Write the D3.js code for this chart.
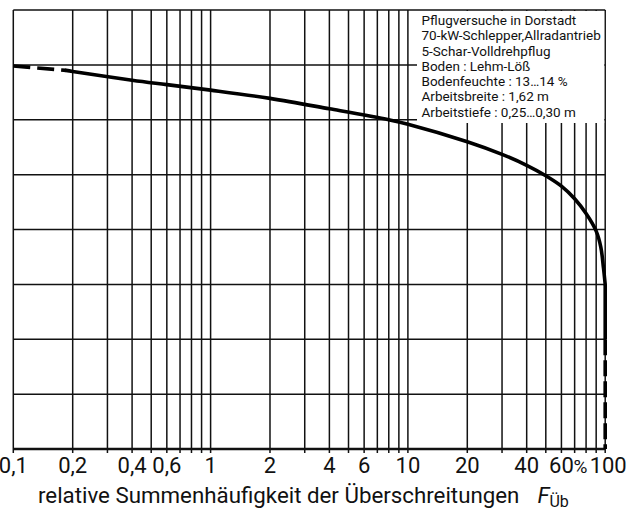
<!DOCTYPE html>
<html>
<head>
<meta charset="utf-8">
<script src="https://cdn.jsdelivr.net/npm/d3@7"></script>
<style>
  body { margin: 0; background: #fff; }
  svg { display: block; }
</style>
</head>
<body>
<div id="chart"></div>
<script>
// y has no labels, so grid units (0..8) are used
const curveX = [0.185, 0.2, 0.4, 0.6, 1, 2, 4, 8, 10, 20, 30, 40, 50, 60, 70, 80, 90, 95, 98, 100];
const curveY = [6.90, 6.88, 6.72, 6.64, 6.54, 6.39, 6.20, 6.00, 5.92, 5.60, 5.37, 5.17, 4.98, 4.79, 4.56, 4.29, 3.97, 3.68, 3.30, 3.0];
const startDashX = [0.1, 0.185];
const startDashY = [6.98, 6.90];
const endSolidY = [3.0, 2.0];
const endDashY = [2.0, 0];

const gridX = [0.1, 0.2, 0.3, 0.4, 0.5, 0.6, 0.7, 0.8, 0.9,
               1, 2, 3, 4, 5, 6, 7, 8, 9,
               10, 20, 30, 40, 50, 60, 70, 80, 90, 100];
const gridY = [0, 1, 2, 3, 4, 5, 6, 7, 8];
const tickValues = [0.1, 0.2, 0.4, 0.6, 1, 2, 4, 6, 10, 20, 40, 60, 100];
const tickLabels = ['0,1', '0,2', '0,4', '0,6', '1', '2', '4', '6', '10', '20', '40', '60', '100'];
const unitLabel = '%';
const unitAt = 75;

const legendLines = [
  'Pflugversuche in Dorstadt',
  '70-kW-Schlepper,Allradantrieb',
  '5-Schar-Volldrehpflug',
  'Boden : Lehm-Löß',
  'Bodenfeuchte : 13…14 %',
  'Arbeitsbreite : 1,62 m',
  'Arbeitstiefe : 0,25…0,30 m'
];

const W = 638, H = 510;
const font = "Roboto, 'DejaVu Sans', sans-serif";

const x = d3.scaleLog().domain([0.1, 100]).range([13.3, 605.2]);
const y = d3.scaleLinear().domain([0, 8]).range([449, 10]);

const svg = d3.select('#chart').append('svg')
  .attr('width', W)
  .attr('height', H);

// vertical grid
svg.append('g').selectAll('line')
  .data(gridX)
  .enter().append('line')
  .attr('x1', d => x(d)).attr('x2', d => x(d))
  .attr('y1', y(8)).attr('y2', y(0) + 4)
  .attr('stroke', '#111')
  .attr('stroke-width', 1.5);

// horizontal grid
svg.append('g').selectAll('line')
  .data(gridY)
  .enter().append('line')
  .attr('x1', x(0.1)).attr('x2', x(100))
  .attr('y1', d => y(d)).attr('y2', d => y(d))
  .attr('stroke', '#111')
  .attr('stroke-width', d => d === 0 ? 2.4 : 1.5);

// legend box (white, hides the grid behind it)
svg.append('rect')
  .attr('x', 417).attr('y', y(8) + 1)
  .attr('width', x(100) - 418).attr('height', 112)
  .attr('fill', '#fff');

svg.append('g')
  .selectAll('text')
  .data(legendLines)
  .enter().append('text')
  .attr('x', 421.5)
  .attr('y', (d, i) => 25 + i * 15.25)
  .style('font-family', font)
  .style('font-size', '13.5px')
  .attr('fill', '#111')
  .text(d => d);

// the curve
const line = d3.line()
  .x(d => x(d[0]))
  .y(d => y(d[1]));

svg.append('path')
  .attr('d', line.curve(d3.curveCatmullRom.alpha(0.5))(curveX.map((v, i) => [v, curveY[i]])))
  .attr('fill', 'none')
  .attr('stroke', '#000')
  .attr('stroke-width', 3.6)
  .attr('stroke-linecap', 'round');

line.curve(d3.curveLinear);

svg.append('path')
  .attr('d', line(startDashX.map((v, i) => [v, startDashY[i]])))
  .attr('fill', 'none')
  .attr('stroke', '#000')
  .attr('stroke-width', 3.6)
  .attr('stroke-dasharray', '17,7');

svg.append('path')
  .attr('d', line(endSolidY.map(v => [100, v])))
  .attr('fill', 'none')
  .attr('stroke', '#000')
  .attr('stroke-width', 3.6);

svg.append('path')
  .attr('d', line(endDashY.map(v => [100, v])))
  .attr('fill', 'none')
  .attr('stroke', '#000')
  .attr('stroke-width', 3.6)
  .attr('stroke-dasharray', '16,5');

// tick labels
svg.append('g').selectAll('text')
  .data(tickValues)
  .enter().append('text')
  .attr('x', d => x(d))
  .attr('dx', d => d === 100 ? 3 : 0)
  .attr('y', 473)
  .attr('text-anchor', 'middle')
  .style('font-family', font)
  .style('font-size', '22px')
  .attr('fill', '#111')
  .text((d, i) => tickLabels[i]);

svg.append('text')
  .attr('x', x(unitAt))
  .attr('y', 473)
  .attr('text-anchor', 'middle')
  .style('font-family', font)
  .style('font-size', '19px')
  .attr('fill', '#111')
  .text(unitLabel);

// axis title
const title = svg.append('text')
  .attr('x', 38)
  .attr('y', 503)
  .style('font-family', font)
  .style('font-size', '22.3px')
  .attr('fill', '#111');
title.append('tspan').text('relative Summenhäufigkeit der Überschreitungen');
title.append('tspan').attr('font-style', 'italic').attr('dx', 18).text('F');
title.append('tspan').attr('dy', 4).style('font-size', '16px').text('Üb');
</script>
</body>
</html>
